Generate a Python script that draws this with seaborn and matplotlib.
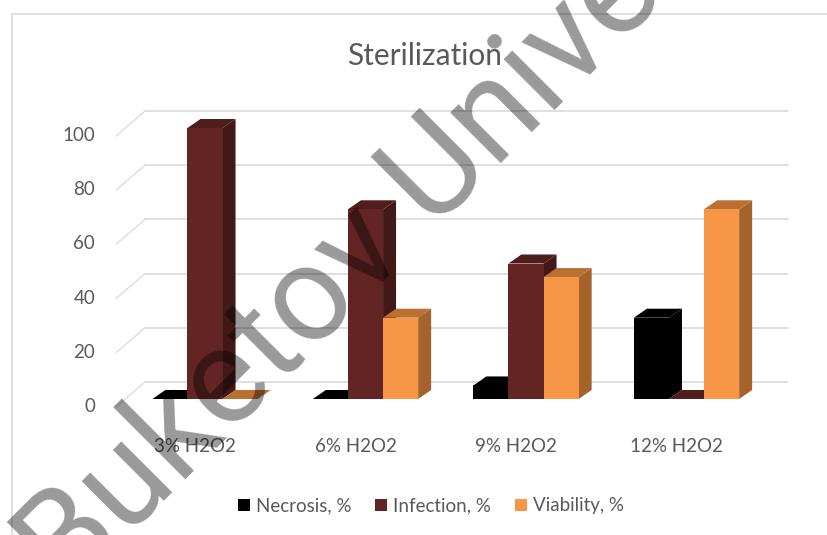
import pandas as pd
import matplotlib.pyplot as plt
import matplotlib.transforms as mtrans
from matplotlib.patches import Polygon, Rectangle
import seaborn as sns

doses = ['3% H2O2', '6% H2O2', '9% H2O2', '12% H2O2']
necrosis = [0, 0, 5, 30]
infection = [100, 70, 50, 0]
viability = [0, 30, 45, 70]
series_names = ['Necrosis, %', 'Infection, %', 'Viability, %']
front_colors = ['#000000', '#632523', '#F79646']
side_colors = ['#000000', '#431918', '#A5632B']
top_colors = ['#000000', '#4F1D1B', '#BA7033']
y_ticks = [0, 20, 40, 60, 80, 100]

W, H = 828, 535
PX_X = 160.5   # pixels per category
PX_Y = 2.71    # pixels per percent
LEFT, RIGHT, BASE, TOP = 116, 788, 399, 100
TEXT = '#595959'
GRID = '#D9D9D9'

sns.set_style('white')
plt.rcParams['font.family'] = ['Lato', 'DejaVu Sans']

df = pd.DataFrame({
    'dose': doses * 3,
    'series': [s for s in series_names for _ in doses],
    'value': necrosis + infection + viability,
})

fig = plt.figure(figsize=(W / 100, H / 100), dpi=100)
ax = fig.add_axes([LEFT / W, 1 - BASE / H, (RIGHT - LEFT) / W, (BASE - TOP) / H])

sns.barplot(data=df, x='dose', y='value', hue='series', palette=front_colors,
            width=0.656, gap=0, saturation=1, linewidth=0, ax=ax)

x0 = -(205 - LEFT) / PX_X
ax.set_xlim(x0, x0 + (RIGHT - LEFT) / PX_X)
ax.set_ylim(0, (BASE - TOP) / PX_Y)
sns.despine(ax=ax, left=True, bottom=True)
ax.set_xlabel('')
ax.set_ylabel('')
ax.set_yticks(y_ticks)
ax.tick_params(axis='both', length=0, labelsize=13.5, labelcolor=TEXT)
ax.tick_params(axis='y', pad=15)
ax.tick_params(axis='x', pad=28)

# labels sit a little off the bars in the original
for lab in ax.get_yticklabels():
    lab.set_transform(lab.get_transform() + mtrans.ScaledTranslation(0, -6 / 100, fig.dpi_scale_trans))
for lab in ax.get_xticklabels():
    lab.set_transform(lab.get_transform() + mtrans.ScaledTranslation(-10 / 100, 0, fig.dpi_scale_trans))

# back wall gridlines + the short diagonal on the side wall
back_dy = 17 / PX_Y
for v in y_ticks:
    ax.plot([x0 + 29 / PX_X, x0 + (RIGHT - LEFT) / PX_X], [v + back_dy, v + back_dy],
            color=GRID, lw=1.2, clip_on=False, zorder=1)
    ax.plot([x0, x0 + 29 / PX_X], [v + back_dy - 25 / PX_Y, v + back_dy],
            color=GRID, lw=0.9, clip_on=False, zorder=1)

# fake 3D: side and top faces for each bar, drawn left to right
dx = 13 / PX_X
dy = 9 / PX_Y
bars = []
for i, cont in enumerate(ax.containers):
    for b in cont:
        bars.append((b.get_x(), b, i))
bars.sort(key=lambda t: t[0])
for n, (xl, b, i) in enumerate(bars):
    z = 5 + n
    xr = xl + b.get_width()
    h = b.get_height()
    ax.add_patch(Polygon([(xr, 0), (xr + dx, dy), (xr + dx, h + dy), (xr, h)],
                         color=side_colors[i], lw=0, zorder=z, clip_on=False))
    ax.add_patch(Polygon([(xl, h), (xl + dx, h + dy), (xr + dx, h + dy), (xr, h)],
                         color=top_colors[i], lw=0, zorder=z, clip_on=False))
    b.set_zorder(z + 0.5)

sns.move_legend(ax, 'center', bbox_to_anchor=(431 / W, 1 - 506 / H), bbox_transform=fig.transFigure,
                ncol=3, frameon=False, title=None, fontsize=13.5, labelcolor=TEXT,
                handlelength=0.65, handleheight=0.65, handletextpad=0.32, columnspacing=1.25)

fig.text(425 / W, 1 - 56 / H, 'Sterilization', color=TEXT, fontsize=21.5, ha='center', va='center')

# chart frame, runs off the right and bottom of the crop
fig.add_artist(Rectangle((12 / W, -0.1), 1.2, 1 - 14 / H + 0.1, transform=fig.transFigure,
                         fill=False, edgecolor=GRID, lw=1.2, zorder=0))

# watermark over everything
fig.text(67 / W, 1 - 597 / H, 'Buketov University', color='black', alpha=0.4, fontsize=97,
         rotation=45, rotation_mode='anchor', ha='left', va='baseline',
         family=['Roboto', 'DejaVu Sans'], zorder=50)

fig.savefig('out.png', dpi=100)
